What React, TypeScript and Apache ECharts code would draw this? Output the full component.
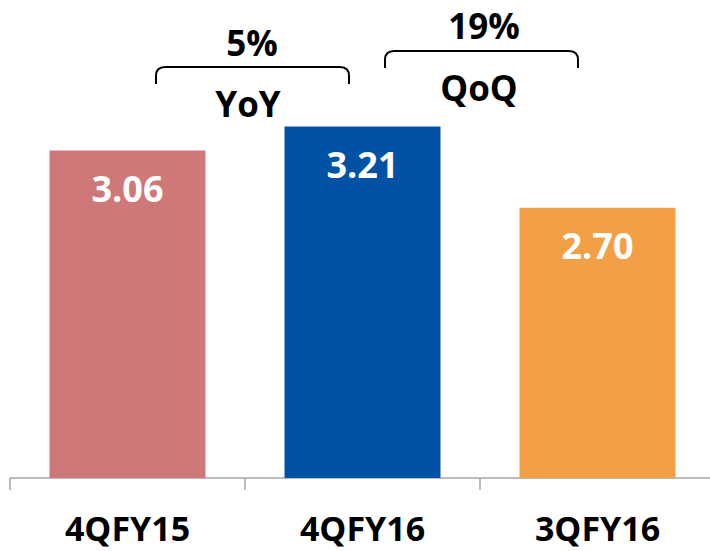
import React, { useEffect, useRef } from "react";
import * as echarts from "echarts";

const categories = ["4QFY15", "4QFY16", "3QFY16"];
const values = [3.06, 3.21, 2.7];
const barColors = ["#CF7879", "#0152A4", "#F29F45"];
const yoyLabel = "YoY";
const yoyValue = "5%";
const qoqLabel = "QoQ";
const qoqValue = "19%";

echarts.graphic.registerShape(
  "brace",
  echarts.graphic.extendPath(
    "M0,17 L0,9 Q0,0 9,0 L184,0 Q193,0 193,9 L193,17",
    {}
  )
);

const FONT = "bold 35px 'Open Sans', sans-serif";

export default function App() {
  const ref = useRef<HTMLDivElement>(null);
  useEffect(() => {
    if (!ref.current) return;
    const chart = echarts.init(ref.current, null, { renderer: "svg" });
    chart.setOption({
      animation: false,
      backgroundColor: "#fff",
      grid: { left: 10, top: 1, width: 705, bottom: 73, containLabel: false, outerBoundsMode: "none" },
      xAxis: {
        type: "category",
        data: categories,
        axisLine: { lineStyle: { color: "#A6A6A6", width: 1.5 } },
        axisTick: { show: true, length: 12, lineStyle: { color: "#A6A6A6", width: 1.5 } },
        axisLabel: {
          margin: 33,
          color: "#000",
          fontSize: 34,
          lineHeight: 34,
          fontWeight: "bold",
          fontFamily: "'Open Sans', sans-serif",
          interval: 0,
        },
      },
      yAxis: {
        type: "value",
        min: 1,
        max: 4,
        show: false,
        splitLine: { show: false },
      },
      series: [
        {
          type: "bar",
          barWidth: 156,
          data: values.map((v, i) => ({ value: v, itemStyle: { color: barColors[i] } })),
          label: {
            show: true,
            position: "insideTop",
            distance: 20,
            color: "#fff",
            fontSize: 36,
            fontWeight: "bold",
            fontFamily: "'Open Sans', sans-serif",
            formatter: (p: any) => Number(p.value).toFixed(2),
          },
        },
      ],
      graphic: [
        {
          type: "brace",
          x: 156,
          y: 67,
          style: { fill: "none", stroke: "#000", lineWidth: 2 },
        },
        {
          type: "brace",
          x: 385,
          y: 51,
          style: { fill: "none", stroke: "#000", lineWidth: 2 },
        },
        {
          type: "text",
          x: 252,
          y: 42,
          style: { text: yoyValue, font: FONT, fill: "#000", textAlign: "center", textVerticalAlign: "middle" },
        },
        {
          type: "text",
          x: 248,
          y: 103,
          style: { text: yoyLabel, font: FONT, fill: "#000", textAlign: "center", textVerticalAlign: "middle" },
        },
        {
          type: "text",
          x: 484,
          y: 25,
          style: { text: qoqValue, font: FONT, fill: "#000", textAlign: "center", textVerticalAlign: "middle" },
        },
        {
          type: "text",
          x: 479,
          y: 87,
          style: { text: qoqLabel, font: FONT, fill: "#000", textAlign: "center", textVerticalAlign: "middle" },
        },
      ],
    });
    return () => chart.dispose();
  }, []);
  return <div ref={ref} style={{ width: 710, height: 551, position: "absolute", left: 0, top: 0 }} />;
}
